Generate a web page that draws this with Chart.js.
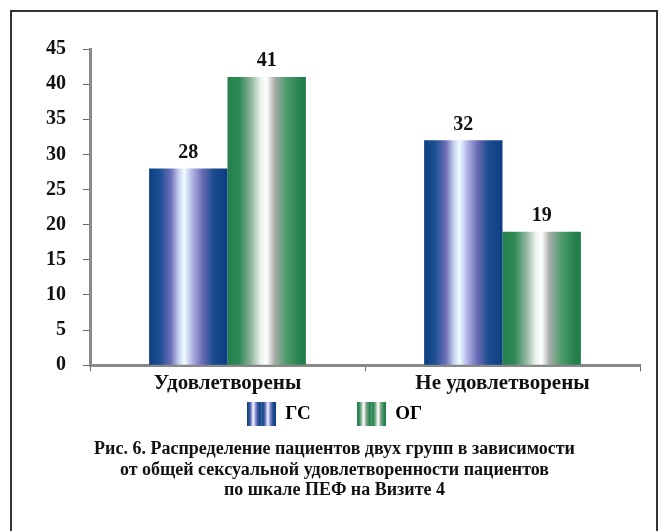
<!DOCTYPE html>
<html>
<head>
<meta charset="utf-8">
<script src="https://cdn.jsdelivr.net/npm/chart.js@4"></script>
<style>
  body { margin: 0; background: #fff; }
  #wrap { position: relative; width: 663px; height: 531px; }
  #frame { position: absolute; left: 10px; top: 10px; width: 648px; height: 530px;
           border: 2px solid #333; box-sizing: border-box; pointer-events: none; }
</style>
</head>
<body>
<div id="wrap">
  <canvas id="myChart" width="663" height="531"></canvas>
  <div id="frame"></div>
</div>
<script>
const categories = ["Удовлетворены", "Не удовлетворены"];
const gsValues = [28, 32];
const ogValues = [41, 19];
const seriesNames = ["ГС", "ОГ"];
const yTicks = [0, 5, 10, 15, 20, 25, 30, 35, 40, 45];
const caption = [
    "Рис. 6. Распределение пациентов двух групп в зависимости",
    "от общей сексуальной удовлетворенности пациентов",
    "по шкале ПЕФ на Визите 4"
];

const serif = "'Liberation Serif', 'DejaVu Serif', serif";

const blueStops = [
    [0, "#0b3f80"], [0.14, "#1d4f93"], [0.28, "#6e70b8"], [0.38, "#c8d2f0"],
    [0.45, "#eefcff"], [0.55, "#b0b4e6"], [0.68, "#6a6cb4"], [0.82, "#1c4b90"], [1, "#0b3f80"]
];
const greenStops = [
    [0, "#23804c"], [0.15, "#2e8a55"], [0.3, "#8fb39c"], [0.42, "#e8f2ea"],
    [0.5, "#ffffff"], [0.6, "#a8aca8"], [0.75, "#4d9b6a"], [0.9, "#2a8550"], [1, "#1f7c48"]
];

function makeGradient(ctx, x0, x1, stops) {
    const g = ctx.createLinearGradient(x0, 0, x1, 0);
    stops.forEach(s => g.addColorStop(s[0], s[1]));
    return g;
}

function legendSwatch(stops) {
    const c = document.createElement("canvas");
    c.width = 29;
    c.height = 24;
    const cx = c.getContext("2d");
    cx.fillStyle = makeGradient(cx, 0, 14.5, stops);
    cx.fillRect(0, 0, 14.5, 24);
    cx.fillStyle = makeGradient(cx, 14.5, 29, stops);
    cx.fillRect(14.5, 0, 14.5, 24);
    return c;
}
const swatches = [legendSwatch(blueStops), legendSwatch(greenStops)];

const barGradients = {
    id: "barGradients",
    beforeDatasetDraw(chart, args) {
        const stops = args.index === 0 ? blueStops : greenStops;
        args.meta.data.forEach(bar => {
            const half = bar.width / 2;
            bar.options.backgroundColor = makeGradient(chart.ctx, bar.x - half, bar.x + half, stops);
        });
    }
};

const valueLabels = {
    id: "valueLabels",
    afterDatasetsDraw(chart) {
        const ctx = chart.ctx;
        ctx.save();
        ctx.font = "bold 20px " + serif;
        ctx.fillStyle = "#111";
        ctx.textAlign = "center";
        ctx.textBaseline = "bottom";
        chart.data.datasets.forEach((ds, i) => {
            chart.getDatasetMeta(i).data.forEach((bar, j) => {
                ctx.fillText(ds.data[j], bar.x, bar.y - 6);
            });
        });
        ctx.restore();
    }
};

const info = {
    labels: categories,
    datasets: [
        { label: seriesNames[0], data: gsValues, backgroundColor: () => "#0b3f80" },
        { label: seriesNames[1], data: ogValues, backgroundColor: () => "#23804c" }
    ]
};

const options = {
    responsive: false,
    animation: false,
    layout: { padding: { top: 49, left: 29, right: 23, bottom: 30 } },
    datasets: {
        bar: { categoryPercentage: 0.57, barPercentage: 1.0, borderWidth: 0 }
    },
    scales: {
        x: {
            offset: true,
            grid: {
                offset: true,
                drawOnChartArea: false,
                tickLength: 6,
                color: "#666"
            },
            border: { color: "#888", width: 3 },
            ticks: {
                color: "#111",
                font: { family: serif, size: 21, weight: "bold" },
                padding: 0
            }
        },
        y: {
            min: 0,
            max: 45,
            afterBuildTicks: (axis) => { axis.ticks = yTicks.map(v => ({ value: v })); },
            grid: {
                drawOnChartArea: false,
                tickLength: 7,
                color: "#666"
            },
            border: { color: "#888", width: 3 },
            ticks: {
                color: "#111",
                font: { family: serif, size: 20, weight: "bold" },
                padding: 17
            }
        }
    },
    plugins: {
        legend: {
            position: "bottom",
            labels: {
                usePointStyle: true,
                pointStyleWidth: 29,
                boxHeight: 24,
                padding: 8,
                color: "#111",
                font: { family: serif, size: 19, weight: "bold" },
                generateLabels: (chart) => chart.data.datasets.map((ds, i, all) => ({
                    // gap after every item but the last, like the original legend
                    text: i < all.length - 1 ? ds.label + "\u2003\u2003" : ds.label,
                    pointStyle: swatches[i],
                    fillStyle: "#fff",
                    strokeStyle: "#fff",
                    lineWidth: 0,
                    datasetIndex: i
                }))
            }
        },
        title: {
            display: true,
            position: "bottom",
            text: caption,
            color: "#111",
            font: { family: serif, size: 18, weight: "bold", lineHeight: 1.14 },
            padding: { top: 6, bottom: 0 }
        },
        tooltip: { enabled: false }
    }
};

const config = { type: "bar", data: info, options, plugins: [barGradients, valueLabels] };

const myChart = new Chart(document.getElementById("myChart"), config);
</script>
</body>
</html>
